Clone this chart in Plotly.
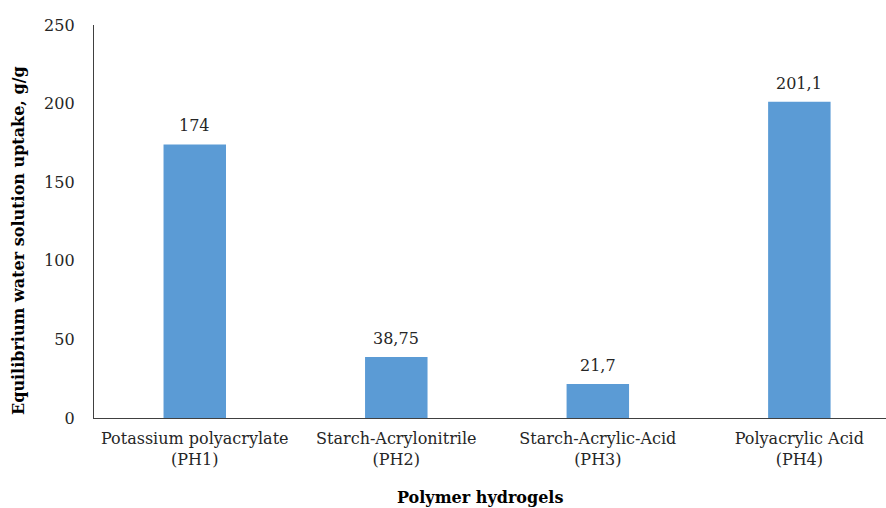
import plotly.graph_objects as go

categories = ["Potassium polyacrylate<br>(PH1)", "Starch-Acrylonitrile<br>(PH2)",
              "Starch-Acrylic-Acid<br>(PH3)", "Polyacrylic Acid<br>(PH4)"]
values = [174, 38.75, 21.7, 201.1]
value_labels = ["174", "38,75", "21,7", "201,1"]
y_ticks = [0, 50, 100, 150, 200, 250]

FONT = "DejaVu Serif"
xs = list(range(len(categories)))
fig = go.Figure(go.Bar(
    x=xs, y=values,
    marker=dict(color="#5B9BD5", line=dict(width=0)),
    width=0.31,
))
annotations = [
    dict(x=x, y=v, text=t, xref="x", yref="y", showarrow=False, yanchor="bottom",
         yshift=7, font=dict(family=FONT, size=16, color="#262626"))
    for x, v, t in zip(xs, values, value_labels)
]
annotations += [
    dict(text="<b>Equilibrium water solution uptake, g/g</b>", x=-76/792, y=(418-241)/393,
         xref="paper", yref="paper", showarrow=False, textangle=-90,
         xanchor="center", yanchor="middle",
         font=dict(family=FONT, size=16, color="black")),
    dict(text="<b>Polymer hydrogels</b>", x=(480-94)/792, y=-(497-418)/393,
         xref="paper", yref="paper", showarrow=False, xanchor="center", yanchor="middle",
         font=dict(family=FONT, size=16, color="black")),
]
fig.update_layout(
    width=886, height=508, margin=dict(l=94, r=0, t=25, b=90),
    plot_bgcolor="white", paper_bgcolor="white", showlegend=False,
    font=dict(family=FONT, size=16, color="#262626"),
    xaxis=dict(range=[-0.5, 3.43], tickmode="array", tickvals=xs,
               ticktext=categories, showline=True, linecolor="#404040", linewidth=1.3,
               ticks="", showgrid=False, zeroline=False, ticklabelstandoff=6),
    yaxis=dict(range=[0, 250], tickmode="array", tickvals=y_ticks,
               showline=True, linecolor="#404040", linewidth=1.3, ticks="",
               showgrid=False, zeroline=False, ticklabelstandoff=15),
    annotations=annotations,
)
fig.write_html("out.html")
